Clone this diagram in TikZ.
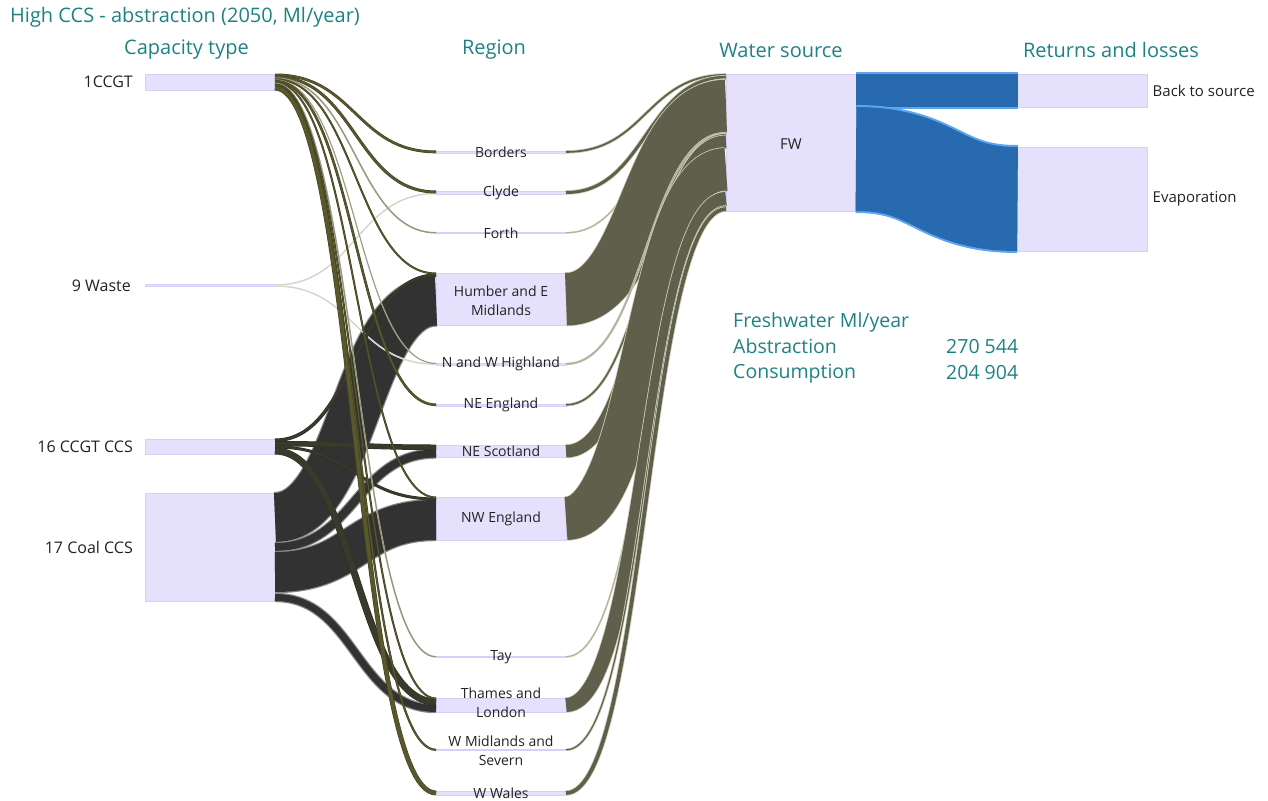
\documentclass[tikz,border=0pt]{standalone}
\usepackage{fontspec}
\setmainfont{Open Sans}
\usetikzlibrary{calc,positioning}
\definecolor{Teal}{RGB}{30,130,130}
\definecolor{BarFill}{RGB}{229,225,252}
\definecolor{BarLine}{RGB}{214,208,247}
\definecolor{OliveLine}{RGB}{62,62,34}
\definecolor{OliveFill}{RGB}{88,88,44}
\definecolor{PaleLine}{RGB}{178,178,160}
\definecolor{PaleFill}{RGB}{150,150,125}
\definecolor{CcsLine}{RGB}{45,45,34}
\definecolor{CcsFill}{RGB}{58,58,44}
\definecolor{CoalLine}{RGB}{140,140,140}
\definecolor{CoalFill}{RGB}{50,50,50}
\definecolor{WasteLine}{RGB}{230,230,224}
\definecolor{WasteFill}{RGB}{212,212,204}
\definecolor{FwLine}{RGB}{208,210,188}
\definecolor{FwFill}{RGB}{95,95,76}
\definecolor{FwPale}{RGB}{178,179,158}
\definecolor{BlueLine}{RGB}{92,166,240}
\definecolor{BlueFill}{RGB}{40,106,176}
\definecolor{LabelGrey}{RGB}{34,34,34}

% band from the top offset #3 of node #2 to the top offset #5 of node #4, #6 wide
\newcommand\flow[6]{%
  \draw[#1,double distance=#6pt] ($(#2.north east)+(0,{#3+#6/2})$)
    .. controls +(80,0) and +(-80,0) .. ($(#4.north west)+(0,{#5+#6/2})$);}

\begin{document}
\begin{tikzpicture}[x=1pt,y=-1pt,
  sbar/.style={draw=BarLine,fill=BarFill,line width=0.8pt,minimum width=130pt,inner sep=0pt,outer sep=0pt},
  coalflow/.style={draw=CoalLine,double=CoalFill,line width=1.2pt},
  wasteflow/.style={draw=WasteLine,double=WasteFill,line width=0.3pt},
  ccsflow/.style={draw=CcsLine,double=CcsFill,line width=0.5pt},
  ccgtflow/.style={draw=OliveLine,double=OliveFill,line width=0.5pt},
  paleflow/.style={draw=PaleLine,double=PaleFill,line width=0.3pt},
  fwflow/.style={draw=FwLine,double=FwFill,line width=0.8pt},
  fwpale/.style={draw=FwLine,double=FwPale,line width=0.4pt},
  blueflow/.style={draw=BlueLine,double=BlueFill,line width=2pt},
  heading/.style={text=Teal,font=\fontsize{20}{24}\selectfont,inner sep=0pt},
  info/.style={text=Teal,font=\fontsize{19.5}{23}\selectfont,inner sep=0pt,anchor=west},
  caplbl/.style={text=LabelGrey,font=\fontsize{16}{19}\selectfont,inner sep=0pt},
  reglbl/.style={text=LabelGrey,font=\fontsize{14}{19}\selectfont,align=center,inner sep=0pt},
  retlbl/.style={text=LabelGrey,font=\fontsize{15}{18}\selectfont,inner sep=0pt}]

\useasboundingbox (0,0) rectangle (1268,800);

% capacity type
\node[sbar,minimum height=16pt] (cct) at (210,82) {};
\node[sbar,minimum height=2pt] (wst) at (210,285.5) {};
\node[sbar,minimum height=15pt] (ccs) at (210,446.5) {};
\node[sbar,minimum height=108pt] (coal) at (210,547) {};

% region
\node[sbar,minimum height=2pt] (bor) at (501,152) {};
\node[sbar,minimum height=3pt] (cly) at (501,192.5) {};
\node[sbar,minimum height=1.5pt] (fth) at (501,233) {};
\node[sbar,minimum height=52.5pt] (hum) at (501,299.25) {};
\node[sbar,minimum height=1.8pt] (nwh) at (501,364) {};
\node[sbar,minimum height=2pt] (nee) at (501,405) {};
\node[sbar,minimum height=12.5pt] (nes) at (501,451.25) {};
\node[sbar,minimum height=43pt] (nwe) at (501,518.5) {};
\node[sbar,minimum height=1.5pt] (tay) at (501,657) {};
\node[sbar,minimum height=14pt] (tha) at (501,705) {};
\node[sbar,minimum height=1.6pt] (wmd) at (501,750) {};
\node[sbar,minimum height=3.8pt] (wwl) at (501,793) {};

% water source, returns and losses
\node[sbar,minimum height=137pt] (fw) at (791,142.5) {};
\node[sbar,minimum height=33pt] (back) at (1082.5,90.5) {};
\node[sbar,minimum height=104pt] (evap) at (1082.5,199) {};

% coal ccs
\flow{coalflow}{coal}{0}{hum}{3.5}{49}
\flow{coalflow}{coal}{50}{nes}{4.5}{8}
\flow{coalflow}{coal}{59}{nwe}{3}{40}
\flow{coalflow}{coal}{101}{tha}{7}{7}
% waste
\flow{wasteflow}{wst}{0}{cly}{2}{1}
\flow{wasteflow}{wst}{1}{nwh}{0.6}{1}
% ccgt ccs
\flow{ccsflow}{ccs}{0}{hum}{1}{2.5}
\flow{ccsflow}{ccs}{2.5}{nes}{0}{4.5}
\flow{ccsflow}{ccs}{7}{nwe}{1}{2}
\flow{ccsflow}{ccs}{9}{tha}{1}{6}
% ccgt
\flow{ccgtflow}{cct}{0}{bor}{0}{1.8}
\flow{ccgtflow}{cct}{1.8}{cly}{0}{2}
\flow{paleflow}{cct}{3.8}{fth}{0}{1}
\flow{ccgtflow}{cct}{4.8}{hum}{0}{1}
\flow{paleflow}{cct}{5.8}{nwh}{0}{0.6}
\flow{ccgtflow}{cct}{6.4}{nee}{0}{1.6}
\flow{ccgtflow}{cct}{8}{nwe}{0}{1}
\flow{paleflow}{cct}{9}{tay}{0}{1}
\flow{ccgtflow}{cct}{10}{tha}{0}{1}
\flow{ccgtflow}{cct}{11}{wmd}{0}{1.2}
\flow{ccgtflow}{cct}{12.2}{wwl}{0}{3.8}

% regions to FW
\flow{fwflow}{bor}{0}{fw}{0}{1.8}
\flow{fwflow}{cly}{0}{fw}{1.8}{3}
\flow{fwpale}{fth}{0}{fw}{4.8}{1}
\flow{fwflow}{hum}{0}{fw}{5.8}{52.5}
\flow{fwpale}{nwh}{0}{fw}{58.3}{1.6}
\flow{fwflow}{nee}{0}{fw}{59.9}{1.6}
\flow{fwflow}{nes}{0}{fw}{61.5}{12.5}
\flow{fwflow}{nwe}{0}{fw}{74}{43}
\flow{fwpale}{tay}{0}{fw}{117}{1}
\flow{fwflow}{tha}{0}{fw}{118}{14}
\flow{fwflow}{wmd}{0}{fw}{132}{1.2}
\flow{fwflow}{wwl}{0}{fw}{133.2}{3.8}

% FW to returns
\flow{blueflow}{fw}{0}{back}{0}{33}
\flow{blueflow}{fw}{33}{evap}{0}{104}

% labels
\node[caplbl,left=12pt of cct] (cct-l) {1CCGT};
\node[caplbl,left=14pt of wst] (wst-l) {9 Waste};
\node[caplbl,left=12pt of ccs] (ccs-l) {16 CCGT CCS};
\node[caplbl,left=12pt of coal] (coal-l) {17 Coal CCS};

\node[reglbl] (bor-l) at (bor) {Borders};
\node[reglbl] (cly-l) at (cly) {Clyde};
\node[reglbl] (fth-l) at (fth) {Forth};
\node[reglbl] (hum-l) at (501,300.5) {Humber and E\\Midlands};
\node[reglbl] (nwh-l) at (nwh) {N and W Highland};
\node[reglbl] (nee-l) at (nee) {NE England};
\node[reglbl] (nes-l) at (nes) {NE Scotland};
\node[reglbl] (nwe-l) at (nwe) {NW England};
\node[reglbl] (tay-l) at (tay) {Tay};
\node[reglbl] (tha-l) at (501,702.5) {Thames and\\London};
\node[reglbl] (wmd-l) at (501,751) {W Midlands and\\Severn};
\node[reglbl] (wwl-l) at (wwl) {W Wales};

\node[retlbl] (fw-l) at (791,144) {FW};
\node[retlbl,right=5pt of back] (back-l) {Back to source};
\node[retlbl,right=5pt of evap] (evap-l) {Evaporation};

% headings
\node[heading,anchor=west] (title) at (10,17) {High CCS - abstraction (2050, Ml/year)};
\node[heading] (h-cap) at (186.5,50) {Capacity type};
\node[heading] (h-reg) at (494,50) {Region};
\node[heading] (h-fw) at (781,50) {Water source};
\node[heading] (h-ret) at (1111,50) {Returns and losses};

\node[info] (i-head) at (733,322) {Freshwater Ml/year};
\node[info] (i-abs) at (733,346) {Abstraction};
\node[info] (i-con) at (733,373.5) {Consumption};
\node[info] (i-absv) at (946,346.5) {270 544};
\node[info] (i-conv) at (946,372.5) {204 904};

\end{tikzpicture}
\end{document}
